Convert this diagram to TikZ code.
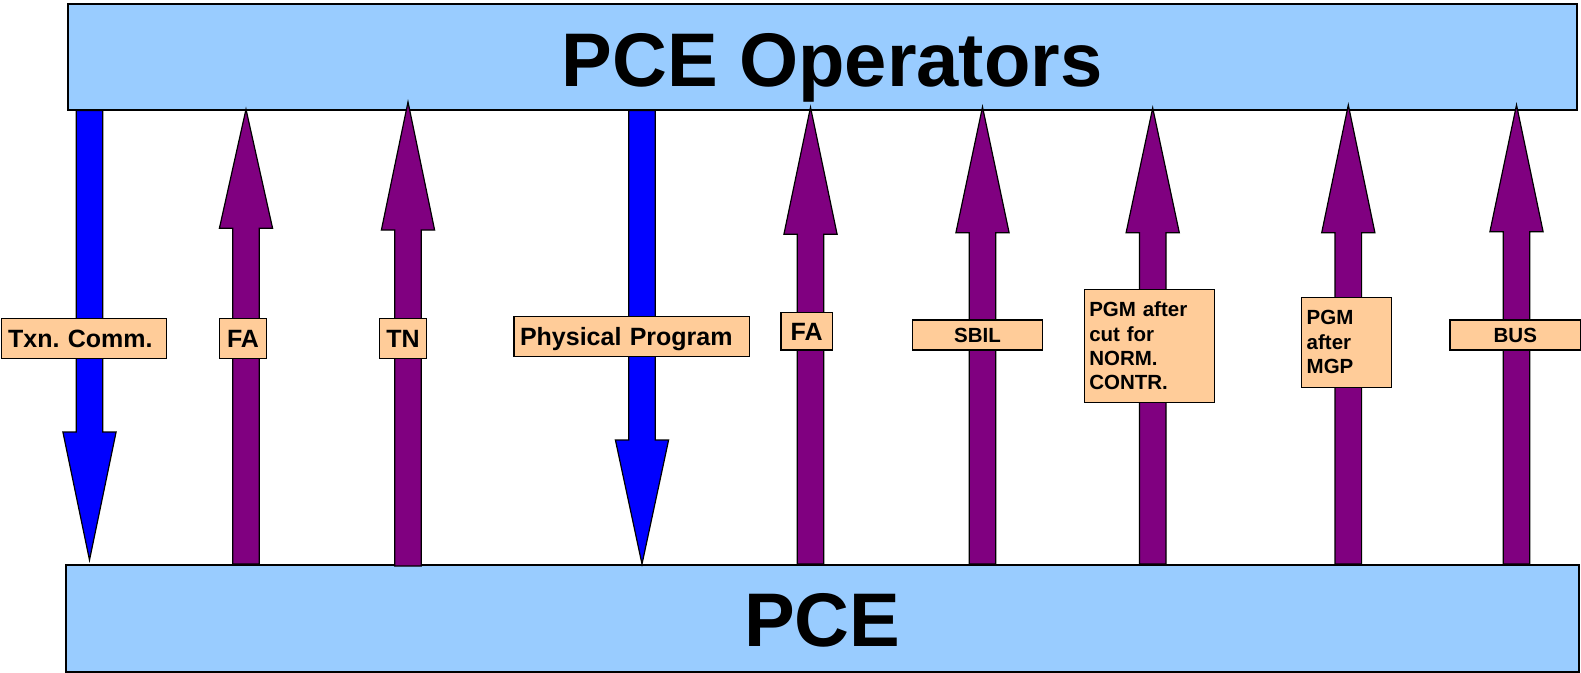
\documentclass[tikz,border=0pt]{standalone}
\usepackage{fontspec}
\setmainfont{Liberation Sans}
\usetikzlibrary{calc}
\frenchspacing
\definecolor{boxblue}{HTML}{99CCFF}
\definecolor{peach}{HTML}{FFCC99}
\definecolor{arrpurple}{HTML}{800080}
\definecolor{arrblue}{HTML}{0000FF}
% #1 style, #2 tail coordinate, #3 tip coordinate, #4 head length
\newcommand\blockarrow[4]{%
  \coordinate (ba-b) at ($(#3)!#4!(#2)$);
  \draw[#1] ($(#2)!13.3pt!90:(#3)$) -- ($(ba-b)!13.3pt!90:(#3)$) -- ($(ba-b)!26.6pt!90:(#3)$)
     -- (#3) -- ($(ba-b)!26.6pt!-90:(#3)$) -- ($(ba-b)!13.3pt!-90:(#3)$) -- ($(#2)!13.3pt!-90:(#3)$) -- cycle;
}
\begin{document}
\begin{tikzpicture}[x=1pt,y=-1pt,
  bigbox/.style={draw=black, line width=1.5pt, fill=boxblue, inner sep=0pt, anchor=north west,
    font=\fontsize{76}{80}\selectfont\bfseries},
  purplearr/.style={draw=black, line width=1.2pt, fill=arrpurple, line join=miter},
  bluearr/.style={draw=black, line width=1.2pt, fill=arrblue, line join=miter},
  tag/.style={draw=black, line width=1.3pt, fill=peach, inner sep=0pt},
  bigtag/.style={tag, font=\fontsize{25}{30}\selectfont\bfseries, text height=17.9pt, text depth=0pt},
  smalltag/.style={tag, font=\fontsize{20.5}{24.4}\selectfont\bfseries, text height=14.7pt, text depth=0pt},
  multitag/.style={tag, font=\fontsize{20.5}{24.4}\selectfont\bfseries, align=left}
]
\useasboundingbox (0,0) rectangle (1581,672);

% boxes
\node[bigbox, minimum width=1509pt, minimum height=106pt, text height=60pt, text depth=0pt]
  (ops) at (67,3) {\hspace*{20pt}PCE Operators};
\node[bigbox, minimum width=1513pt, minimum height=107pt, text height=56.4pt, text depth=0pt]
  (pce) at (65,564) {PCE};

% arrow end points
\coordinate (a1s) at (89.5,0 |- ops.south);  \coordinate (a1e) at (89.5,560);
\coordinate (a2s) at (246,0 |- pce.north);   \coordinate (a2e) at (246,109.3);
\coordinate (a3s) at (408,566);              \coordinate (a3e) at (408,102);
\coordinate (a4s) at (642,0 |- ops.south);   \coordinate (a4e) at (642,0 |- pce.north);
\coordinate (a5s) at (810.5,0 |- pce.north); \coordinate (a5e) at (810.5,107.3);
\coordinate (a6s) at (982.5,0 |- pce.north); \coordinate (a6e) at (982.5,107);
\coordinate (a7s) at (1152.7,0 |- pce.north);\coordinate (a7e) at (1152.7,108);
\coordinate (a8s) at (1348.3,0 |- pce.north);\coordinate (a8e) at (1348.3,105);
\coordinate (a9s) at (1516.5,0 |- pce.north);\coordinate (a9e) at (1516.5,105);

% arrows
\blockarrow{bluearr}{a1s}{a1e}{128pt}
\blockarrow{purplearr}{a2s}{a2e}{119pt}
\blockarrow{purplearr}{a3s}{a3e}{128pt}
\blockarrow{bluearr}{a4s}{a4e}{124pt}
\blockarrow{purplearr}{a5s}{a5e}{127pt}
\blockarrow{purplearr}{a6s}{a6e}{125.7pt}
\blockarrow{purplearr}{a7s}{a7e}{124.7pt}
\blockarrow{purplearr}{a8s}{a8e}{127.7pt}
\blockarrow{purplearr}{a9s}{a9e}{126.7pt}

% labels
\node[bigtag, minimum width=165pt, minimum height=40pt, text width=152pt, align=left]
  (l1) at (84.2,338.3) {Txn. Comm.};
\node[bigtag, minimum width=47.4pt, minimum height=40pt] (l2) at (243,338.3) {FA};
\node[bigtag, minimum width=47.4pt, minimum height=40pt] (l3) at (403,338.3) {TN};
\node[bigtag, minimum width=235.3pt, minimum height=40pt, text width=223.4pt, align=left]
  (l4) at (631.7,336.7) {Physical Program};
\node[bigtag, minimum width=51.3pt, minimum height=37.7pt] (l5) at (806.7,331.2) {FA};
\node[smalltag, minimum width=130.4pt, minimum height=30pt] (l6) at (977.5,335) {SBIL};
\node[multitag, minimum width=130pt, minimum height=113.4pt, text width=120pt]
  (l7) at (1149.3,346) {PGM after\\cut for\\NORM.\\CONTR.};
\node[multitag, minimum width=90pt, minimum height=90pt, text width=80pt]
  (l8) at (1346.7,342.3) {PGM\\after\\MGP};
\node[smalltag, minimum width=130.7pt, minimum height=30pt] (l9) at (1515.3,335) {BUS};
\end{tikzpicture}
\end{document}
